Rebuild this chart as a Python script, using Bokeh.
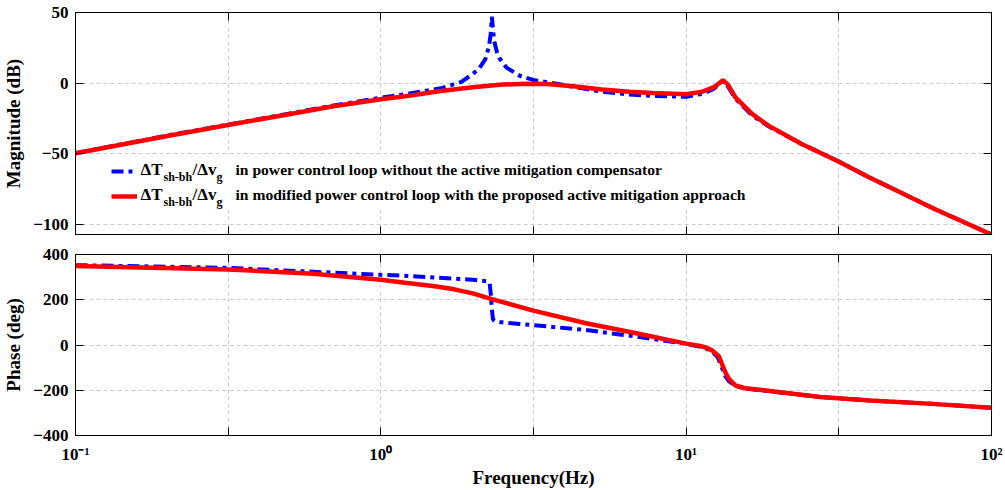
from bokeh.plotting import figure
from bokeh.layouts import column
from bokeh.models import (FixedTicker, CustomJSTickFormatter, LogAxis, LinearAxis,
                          Legend, LegendItem, Label, Range1d, BoxAnnotation)
from bokeh.embed import file_html
from bokeh.resources import INLINE

FONT = "Liberation Serif"

# ---------------- data ----------------
x_ticks = [0.1, 0.316227766, 1.0, 3.16227766, 10.0, 31.6227766, 100.0]
mag_ticks = [-100, -50, 0, 50]
phase_ticks = [-400, -200, 0, 200, 400]

mag_f_blue = [0.1, 0.2, 0.316, 0.5, 0.7, 1.0, 1.22, 1.57, 1.83, 2.0, 2.1, 2.2, 2.26, 2.29,
              2.31, 2.33, 2.35, 2.40, 2.44, 2.58, 2.86, 3.15, 3.76, 4.26, 5.3, 6.5, 7.8,
              10.0, 11.3, 12.3, 13.2, 13.6, 14.5, 16.4, 18.6, 23.9, 31.2, 39.7, 50.6, 65.1, 100.0]
mag_blue = [-49.5, -37.0, -29.3, -21.5, -15.8, -10.3, -7.5, -3.6, 0.8, 6.5, 10.5, 17.0, 26.0, 35.0,
            47.0, 38.0, 30.0, 22.0, 18.0, 11.0, 5.1, 2.3, -0.3, -2.6, -6.0, -8.0, -9.0,
            -9.6, -7.5, -4.0, 1.5, -1.0, -11.0, -22.5, -30.5, -43.0, -54.8, -66.5, -77.5, -89.0, -107.0]

mag_f_red = [0.1, 0.2, 0.316, 0.5, 0.7, 1.0, 1.22, 1.57, 2.0, 2.5, 3.0, 3.5, 4.26, 5.3, 6.5, 7.8,
             10.0, 11.3, 12.3, 13.2, 13.7, 14.5, 16.4, 18.6, 23.9, 31.2, 39.7, 50.6, 65.1, 100.0]
mag_red = [-49.5, -37.3, -29.5, -22.0, -16.3, -11.3, -9.0, -5.5, -2.8, -1.0, -0.4, -0.6, -2.2, -4.5,
           -6.0, -7.0, -7.8, -6.0, -3.0, 2.1, -1.0, -10.0, -21.5, -30.0, -43.0, -54.8, -66.5,
           -77.5, -89.0, -107.0]

ph_f_blue = [0.1, 0.316, 1.0, 1.19, 1.7, 2.0, 2.22, 2.27, 2.29, 2.31, 2.33, 2.38, 2.53, 3.16, 4.7,
             6.8, 10.0, 11.5, 12.2, 12.7, 13.0, 13.4, 13.8, 14.5, 15.6, 19.1, 27.5, 40.0, 60.0, 100.0]
ph_blue = [353, 341, 310, 306, 294, 288, 282, 276, 230, 160, 112, 104, 99, 88, 66,
           38, 5, -12, -30, -55, -90, -135, -160, -181, -192, -206, -230, -245, -258, -277]

ph_f_red = [0.1, 0.316, 0.6, 1.0, 1.2, 1.5, 1.74, 2.0, 2.31, 3.16, 4.7, 6.8, 10.0, 11.0, 11.6, 12.2,
            12.8, 13.1, 13.5, 13.8, 14.5, 15.6, 19.1, 27.5, 40.0, 60.0, 100.0]
ph_red = [349, 334, 315, 288, 275, 260, 246, 228, 203, 152, 96, 53, 6, -3, -11, -25,
          -50, -84, -127, -149, -179, -191, -204, -230, -245, -258, -277]

legend_prefix = [("\u0394T", "sh-bh"), ("/\u0394v", "g")]
legend_tails = ["in power control loop without the active mitigation compensator",
                "in modified power control loop with the proposed active mitigation approach"]

BLUE = "#0000FF"
RED = "#FF0000"
DASH = "12 5 4 5"

x_fmt = CustomJSTickFormatter(code="""
const e = Math.log10(tick);
const r = Math.round(e);
if (Math.abs(e - r) > 1e-6) { return ""; }
const sup = {"-1": "\\u207B\\u00B9", "0": "\\u2070", "1": "\\u00B9", "2": "\\u00B2"};
return "10" + sup[String(r)];
""")
empty_fmt = CustomJSTickFormatter(code="return '';")


def style_axis(ax, label_size="17px"):
    ax.axis_line_color = "black"
    ax.axis_line_width = 1
    ax.major_tick_in = 8
    ax.major_tick_out = 0
    ax.major_tick_line_color = "black"
    ax.minor_tick_line_color = None
    ax.major_label_text_font = FONT
    ax.major_label_text_font_style = "bold"
    ax.major_label_text_font_size = label_size
    ax.major_label_text_color = "black"
    ax.axis_label_text_font = FONT
    ax.axis_label_text_font_style = "bold"
    ax.axis_label_text_font_size = "19px"
    ax.axis_label_text_color = "black"


def make_fig(height, yr, yticks, ylabel, min_top, min_bottom, show_x):
    p = figure(width=1005, height=height, x_axis_type="log", output_backend="svg",
               toolbar_location=None, x_range=Range1d(0.1, 100), y_range=Range1d(*yr),
               min_border_left=69, min_border_right=14, min_border_top=min_top,
               min_border_bottom=min_bottom, background_fill_color="white",
               border_fill_color="white")
    p.outline_line_color = "black"
    p.outline_line_width = 1
    xt = FixedTicker(ticks=x_ticks)
    yt = FixedTicker(ticks=yticks)
    p.xaxis.ticker = xt
    p.yaxis.ticker = yt
    for ax in p.xaxis:
        style_axis(ax, "17px")
        if show_x:
            ax.formatter = x_fmt
            ax.major_label_standoff = 9
            ax.axis_label = "Frequency(Hz)"
            ax.axis_label_standoff = 0
        else:
            ax.formatter = empty_fmt
            ax.major_label_text_font_size = "0px"
            ax.major_label_standoff = 0
    for ax in p.yaxis:
        style_axis(ax, "17px")
        ax.major_label_standoff = 7
        ax.axis_label = ylabel
        ax.axis_label_standoff = 6
    # box axes on top and right
    top = LogAxis(ticker=xt, formatter=empty_fmt)
    right = LinearAxis(ticker=yt, formatter=empty_fmt)
    for ax in (top, right):
        style_axis(ax)
        ax.major_label_text_font_size = "0px"
        ax.major_label_standoff = 0
    p.add_layout(top, "above")
    p.add_layout(right, "right")
    for g in (p.xgrid, p.ygrid):
        g.grid_line_color = "#cccccc"
        g.grid_line_dash = "4 3"
        g.grid_line_width = 1
    return p


p1 = make_fig(244, (-107, 50), mag_ticks, "Magnitude (dB)", 12, 10, False)

# white legend background (no border)
p1.add_layout(BoxAnnotation(left=34, right=684, bottom=28, top=80,
                            left_units="screen", right_units="screen",
                            bottom_units="screen", top_units="screen",
                            fill_color="white", fill_alpha=1.0, line_color=None,
                            level="underlay"))

rb = p1.line(mag_f_blue, mag_blue, line_color=BLUE, line_width=4, line_dash=DASH)
rr = p1.line(mag_f_red, mag_red, line_color=RED, line_width=4.5)

legend = Legend(items=[LegendItem(label=" ", renderers=[rb]), LegendItem(label=" ", renderers=[rr])],
                location=(36, 28), padding=5, spacing=5, glyph_width=26, glyph_height=20,
                label_height=20, label_width=0, label_standoff=0, margin=0,
                border_line_color=None, background_fill_alpha=0.0,
                label_text_font_size="8px")
p1.add_layout(legend)

row_y = [65, 40]
for yy, tail in zip(row_y, legend_tails):
    (m1, s1), (m2, s2) = legend_prefix
    segs = [(65, yy, m1, "17px"), (88, yy - 7, s1, "12px"),
            (117, yy, m2, "17px"), (141, yy - 7, s2, "12px"),
            (160, yy, tail, "15.6px")]
    for sx, sy, txt, fs in segs:
        p1.add_layout(Label(x=sx, y=sy, x_units="screen", y_units="screen", text=txt,
                            text_font=FONT, text_font_style="bold", text_font_size=fs,
                            text_baseline="middle", text_color="black"))

p2 = make_fig(246, (-400, 400), phase_ticks, "Phase (deg)", 10, 55, True)
p2.line(ph_f_blue, ph_blue, line_color=BLUE, line_width=4, line_dash=DASH)
p2.line(ph_f_red, ph_red, line_color=RED, line_width=4.5)

layout = column(p1, p2, spacing=0)
open("out.html", "w").write(file_html(layout, INLINE))
